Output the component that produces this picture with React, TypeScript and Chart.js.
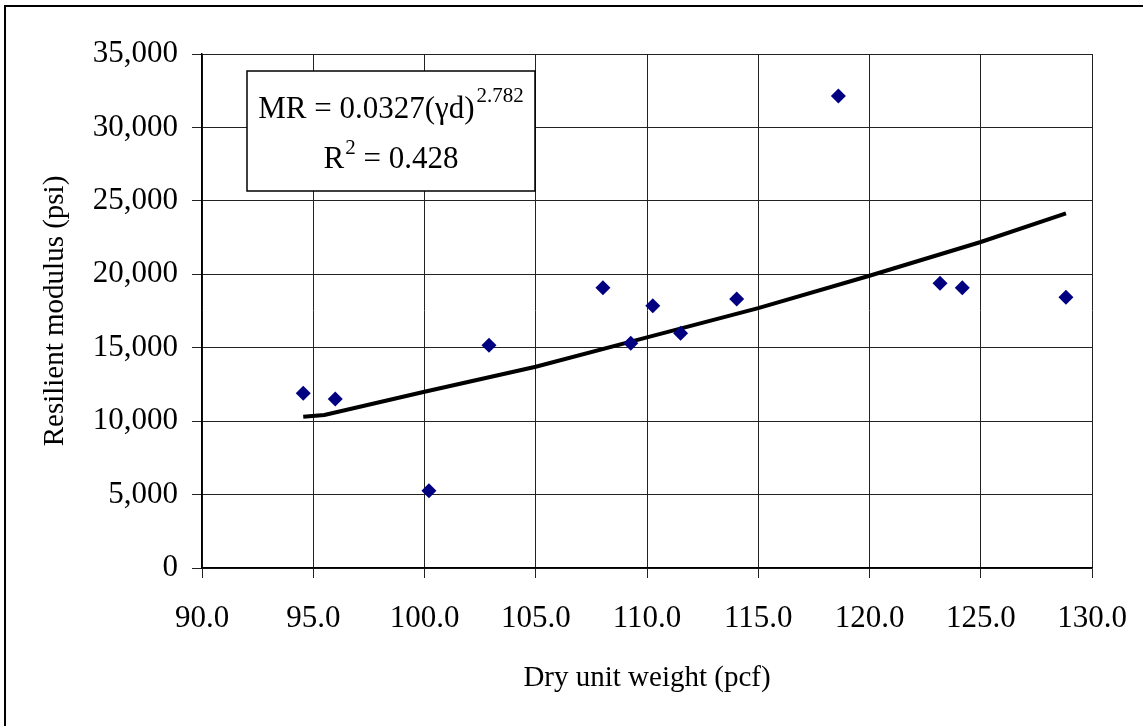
import React, { useEffect, useRef } from "react";
import { Chart, registerables } from "chart.js";

Chart.register(...registerables);

// Measured data points
const dryUnitWeight = [94.55, 95.99, 100.2, 102.9, 108.02, 109.27, 110.26, 111.51, 114.03, 118.6, 123.17, 124.17, 128.83];
const resilientModulus = [11900, 11500, 5260, 15160, 19090, 15300, 17860, 15980, 18320, 32140, 19390, 19090, 18430];

// Trend line
const trendX = [94.55, 95.5, 100, 105, 110, 115, 120, 125, 128.83];
const trendY = [10300, 10420, 12000, 13700, 15700, 17700, 19900, 22200, 24150];

// Axis ticks
const xTicks = [90, 95, 100, 105, 110, 115, 120, 125, 130];
const yTicks = [0, 5000, 10000, 15000, 20000, 25000, 30000, 35000];

const equationMain = "MR = 0.0327(γd)";
const equationExp = "2.782";
const r2Main = "R";
const r2Exp = "2";
const r2Rest = " = 0.428";

const FONT = '"Liberation Serif", "Times New Roman", serif';

export default function App() {
  const ref = useRef<HTMLCanvasElement | null>(null);

  useEffect(() => {
    if (!ref.current) return;

    const framePlugin = {
      id: "frameAndEquation",
      beforeDraw(chart: any) {
        const ctx = chart.ctx;
        ctx.save();
        ctx.fillStyle = "#ffffff";
        ctx.fillRect(0, 0, chart.width, chart.height);
        ctx.restore();
      },
      afterDraw(chart: any) {
        const ctx = chart.ctx;
        const a = chart.chartArea;
        ctx.save();
        // outer frame
        ctx.strokeStyle = "#000";
        ctx.lineWidth = 2;
        ctx.strokeRect(5, 6, 1300, 900);

        // equation box
        const bx = a.left + 45;
        const by = a.top + 17;
        const bw = 288;
        const bh = 120;
        ctx.fillStyle = "#fff";
        ctx.fillRect(bx, by, bw, bh);
        ctx.lineWidth = 1.5;
        ctx.strokeRect(bx, by, bw, bh);
        const cx = bx + bw / 2;
        ctx.fillStyle = "#000";
        ctx.textAlign = "left";
        ctx.textBaseline = "alphabetic";

        const big = `31px ${FONT}`;
        const small = `21px ${FONT}`;
        ctx.font = big;
        const w1 = ctx.measureText(equationMain).width;
        ctx.font = small;
        const w2 = ctx.measureText(equationExp).width;
        let x0 = cx - (w1 + w2 + 2) / 2;
        ctx.font = big;
        ctx.fillText(equationMain, x0, by + 47);
        ctx.font = small;
        ctx.fillText(equationExp, x0 + w1 + 2, by + 31);

        ctx.font = big;
        const wr = ctx.measureText(r2Main).width;
        const wrest = ctx.measureText(r2Rest).width;
        ctx.font = small;
        const we = ctx.measureText(r2Exp).width;
        x0 = cx - (wr + we + 1 + wrest) / 2;
        ctx.font = big;
        ctx.fillText(r2Main, x0, by + 97);
        ctx.font = small;
        ctx.fillText(r2Exp, x0 + wr + 1, by + 83);
        ctx.font = big;
        ctx.fillText(r2Rest, x0 + wr + we + 1, by + 97);
        ctx.restore();
      },
    };

    const chart = new Chart(ref.current, {
      type: "scatter",
      data: {
        datasets: [
          {
            label: "Data",
            data: dryUnitWeight.map((x, i) => ({ x, y: resilientModulus[i] })),
            pointStyle: "rectRot",
            pointRadius: 7.5,
            backgroundColor: "#000080",
            borderColor: "#000080",
            borderWidth: 0,
            showLine: false,
            order: 1,
          },
          {
            label: "Trend",
            data: trendX.map((x, i) => ({ x, y: trendY[i] })),
            showLine: true,
            borderColor: "#000",
            borderWidth: 4,
            pointRadius: 0,
            tension: 0,
            order: 2,
          },
        ],
      },
      options: {
        responsive: false,
        animation: false,
        layout: { padding: { left: 0, right: 51, top: 54, bottom: 0 } },
        plugins: {
          legend: { display: false },
          tooltip: { enabled: false },
        },
        scales: {
          x: {
            type: "linear",
            min: 90,
            max: 130,
            afterBuildTicks: (s: any) => {
              s.ticks = xTicks.map((v) => ({ value: v }));
            },
            ticks: {
              callback: (v: any) => Number(v).toFixed(1),
              font: { family: FONT, size: 31 },
              color: "#000",
              padding: 22,
              maxRotation: 0,
            },
            grid: { color: "#222", lineWidth: 1, tickLength: 10, drawTicks: true },
            border: { color: "#000", width: 1.5 },
            title: {
              display: true,
              text: "Dry unit weight (pcf)",
              font: { family: FONT, size: 29 },
              color: "#000",
              padding: { top: 0, bottom: 30 },
            },
            afterFit: (s: any) => {
              s.height = 158;
              s.paddingLeft = 0;
              s.paddingRight = 0;
            },
          },
          y: {
            type: "linear",
            min: 0,
            max: 35000,
            afterBuildTicks: (s: any) => {
              s.ticks = yTicks.map((v) => ({ value: v }));
            },
            ticks: {
              callback: (v: any) => Number(v).toLocaleString("en-US"),
              font: { family: FONT, size: 31 },
              color: "#000",
              padding: 14,
            },
            grid: { color: "#222", lineWidth: 1, tickLength: 10, drawTicks: true },
            border: { color: "#000", width: 1.5 },
            title: {
              display: true,
              text: "Resilient modulus (psi)",
              font: { family: FONT, size: 29 },
              color: "#000",
              padding: { top: 38, bottom: 0 },
            },
            afterFit: (s: any) => {
              s.width = 202;
              s.paddingTop = 0;
              s.paddingBottom = 0;
            },
          },
        },
      },
      plugins: [framePlugin],
    } as any);

    return () => chart.destroy();
  }, []);

  return (
    <div style={{ position: "absolute", left: 0, top: 0, width: 1143, height: 726 }}>
      <canvas ref={ref} width={1143} height={726} style={{ display: "block" }} />
    </div>
  );
}
